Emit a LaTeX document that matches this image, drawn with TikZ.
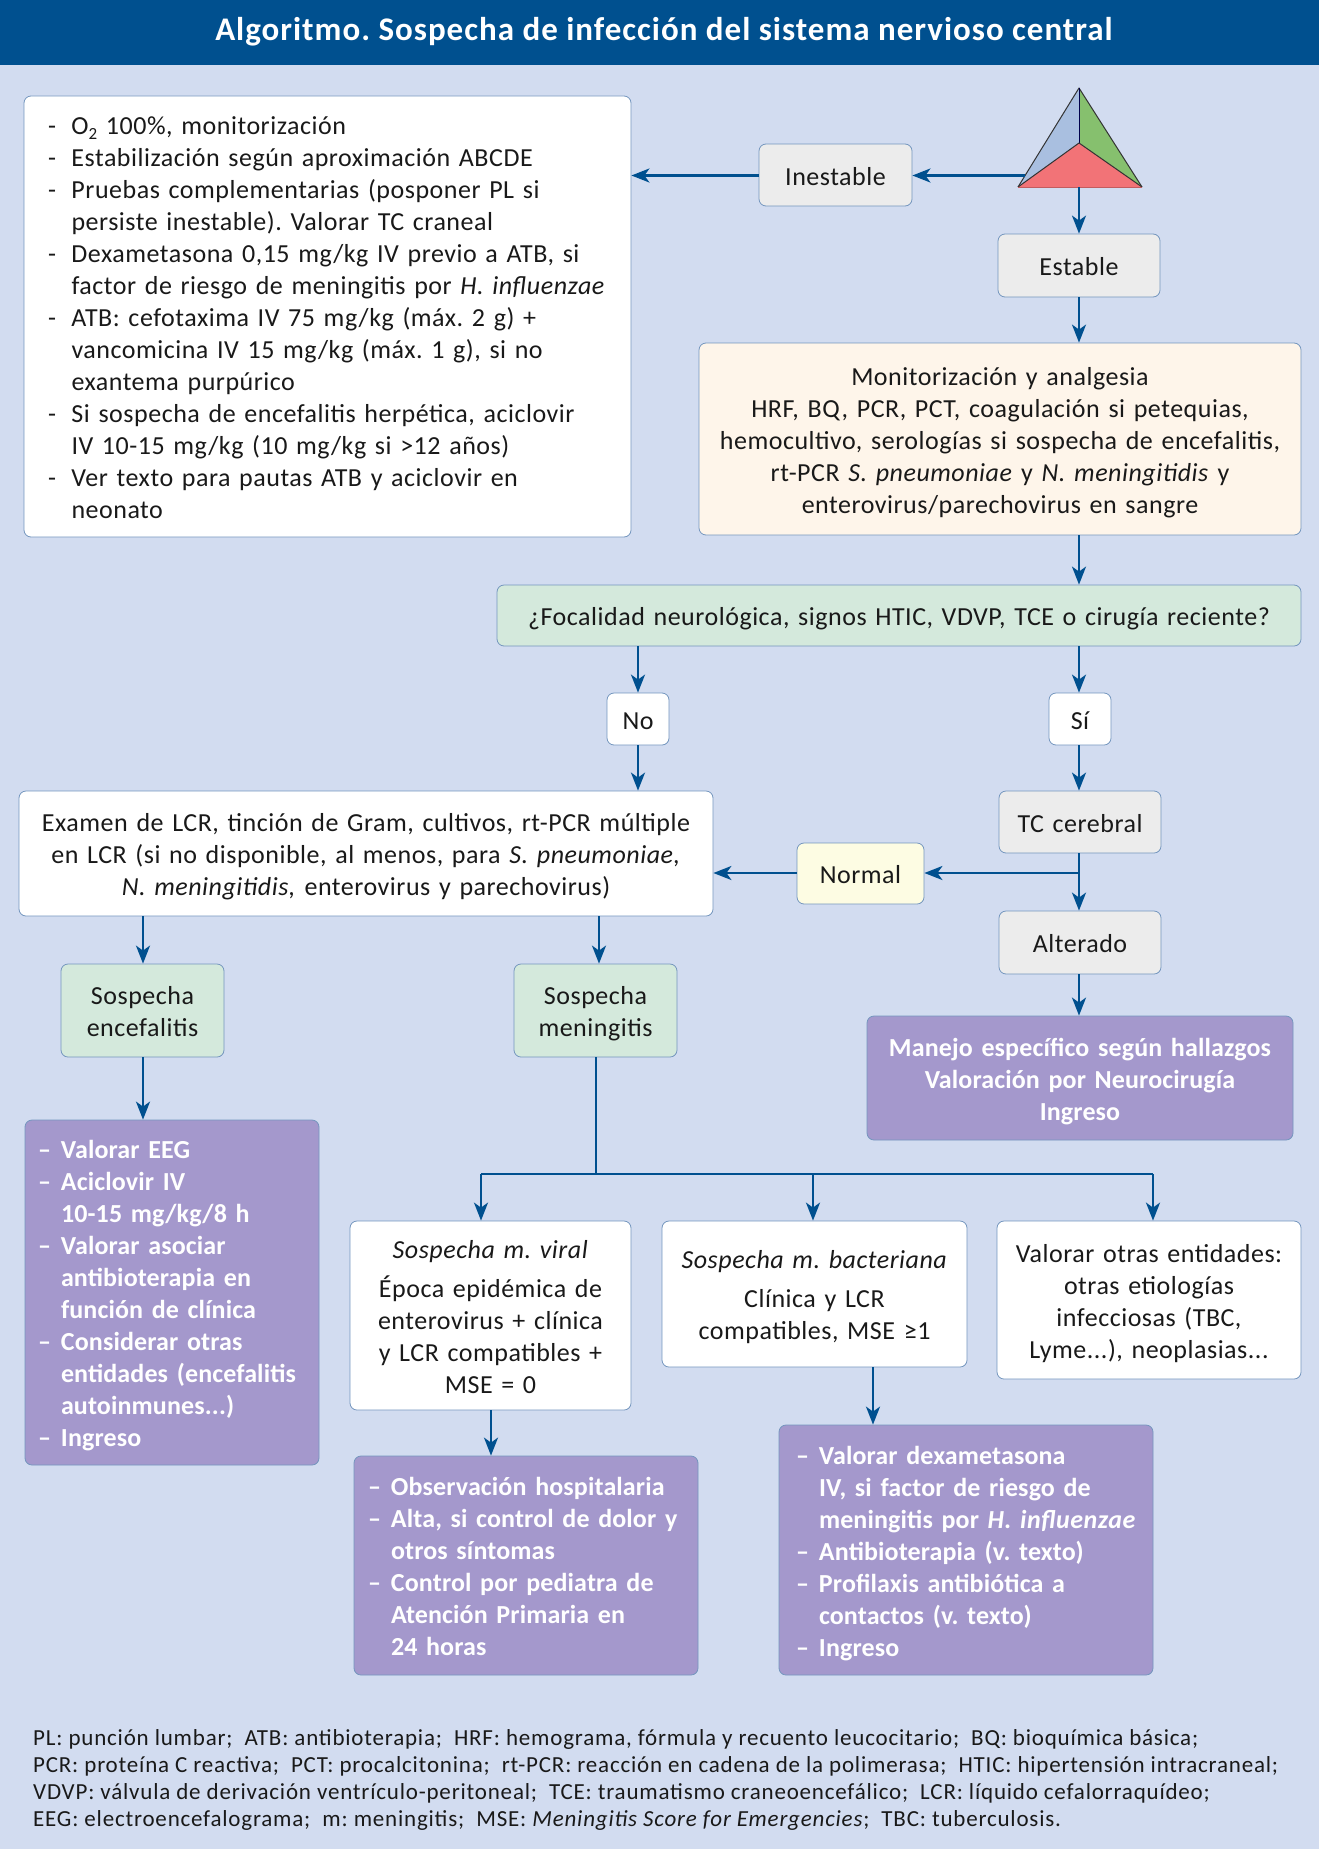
\documentclass[tikz,border=0pt]{standalone}
\usepackage{fontspec}
\setmainfont{Carlito}[LetterSpace=2,BoldFeatures={LetterSpace=0.5}]
\newfontfamily\footf{Carlito}[LetterSpace=3.5]
\newfontfamily\titlef{Carlito}[LetterSpace=3]
\usetikzlibrary{arrows.meta}
\definecolor{bgblue}{HTML}{D2DCF0}
\definecolor{navy}{HTML}{00508F}
\definecolor{edgeblue}{HTML}{7496BE}
\definecolor{greybox}{HTML}{ECECEC}
\definecolor{creambox}{HTML}{FEF5EA}
\definecolor{greenbox}{HTML}{D4E9DC}
\definecolor{yellowbox}{HTML}{FDFCE3}
\definecolor{purplebox}{HTML}{A498CC}
\definecolor{triblue}{HTML}{A9BFE0}
\definecolor{trigreen}{HTML}{86C06E}
\definecolor{trired}{HTML}{F27377}
\frenchspacing
\newcommand{\bxnode}[8]{%
 \pgfmathsetmacro\mycx{(#2+#4)/2}\pgfmathsetmacro\mycy{(#3+#5)/2}%
 \pgfmathsetmacro\myw{#4-#2}\pgfmathsetmacro\myh{#5-#3}\pgfmathsetmacro\mytw{#4-#2-2*#7}%
 \node[basebox,#6,minimum width=\myw pt,minimum height=\myh pt,inner xsep=#7 pt,text width=\mytw pt] (#1) at (\mycx,\mycy) {\rule{0pt}{25pt}#8\rule[-5pt]{0pt}{5pt}};}
\newcommand{\LI}[1]{\makebox[23.5pt][l]{-}#1}
\newcommand{\LC}[1]{\hspace*{23.5pt}#1}
\newcommand{\PI}[1]{\makebox[23pt][l]{–}#1}
\newcommand{\PC}[1]{\hspace*{23pt}#1}
\tikzset{
 basebox/.style={draw=edgeblue,line width=0.8pt,rounded corners=7pt,inner ysep=0pt,font=\fontsize{26}{32}\selectfont,text=black!90},
 greyb/.style={fill=greybox,align=center},
 creamb/.style={fill=creambox,align=center},
 greenb/.style={fill=greenbox,align=center},
 yellowb/.style={fill=yellowbox,align=center},
 whitec/.style={fill=white,align=center},
 whitel/.style={fill=white,align=left},
 purpc/.style={fill=purplebox,align=center,text=white,font=\fontsize{26}{32}\selectfont\bfseries},
 purpl/.style={fill=purplebox,align=left,text=white,font=\fontsize{26}{32}\selectfont\bfseries},
 arr/.style={draw=navy,line width=2.4pt,-{Stealth[length=18pt,width=14pt,inset=5pt]}},
 plainline/.style={draw=navy,line width=2.4pt},
 tripart/.style={draw=black!80,line width=1pt,line join=round},
}
\begin{document}
\begin{tikzpicture}[x=1pt,y=-1pt]
\useasboundingbox (0,0) rectangle (1319,1849);
\fill[bgblue] (0,0) rectangle (1319,1849);
\fill[navy] (0,0) rectangle (1319,65);
\node[font=\fontsize{33}{36}\selectfont\titlef\bfseries,text=white] (title) at (664,32) {Algoritmo. Sospecha de infección del sistema nervioso central};

% triangle
\coordinate (ta) at (1079,88);
\coordinate (tl) at (1018,187);
\coordinate (tr) at (1142,187);
\coordinate (tc) at (1079,143);
\coordinate (tleft) at (1025,175.5);
\coordinate (tbot) at (1079,187);
\fill[triblue] (ta) -- (tl) -- (tc) -- cycle;
\fill[trigreen] (ta) -- (tr) -- (tc) -- cycle;
\fill[trired] (tl) -- (tr) -- (tc) -- cycle;
\draw[tripart] (tl) -- (ta) -- (tr);
\draw[tripart,black!70!blue] (ta) -- (tc);
\draw[tripart,black!80] (tl) -- (tc) -- (tr);
\draw[trired!80!black,line width=1pt] (tl) -- (tr);

\bxnode{leftbox}{24}{96}{631}{537}{whitel}{24}{%
\LI{O\raisebox{-5pt}{\fontsize{17}{17}\selectfont 2} 100\%, monitorización}\\
\LI{Estabilización según aproximación ABCDE}\\
\LI{Pruebas complementarias (posponer PL si}\\
\LC{persiste inestable). Valorar TC craneal}\\
\LI{Dexametasona 0,15 mg/kg IV previo a ATB, si}\\
\LC{factor de riesgo de meningitis por \textit{H. influenzae}}\\
\LI{ATB: cefotaxima IV 75 mg/kg (máx. 2 g) +}\\
\LC{vancomicina IV 15 mg/kg (máx. 1 g), si no}\\
\LC{exantema purpúrico}\\
\LI{Si sospecha de encefalitis herpética, aciclovir}\\
\LC{IV 10-15 mg/kg (10 mg/kg si >12 años)}\\
\LI{Ver texto para pautas ATB y aciclovir en}\\
\LC{neonato}}

\bxnode{inest}{759}{144}{912}{206}{greyb}{4}{Inestable}
\bxnode{estable}{998}{234}{1160}{297}{greyb}{4}{Estable}
\bxnode{monit}{699}{343}{1301}{535}{creamb}{2}{Monitorización y analgesia\\
HRF, BQ, PCR, PCT, coagulación si petequias,\\
hemocultivo, serologías si sospecha de encefalitis,\\
rt-PCR \textit{S. pneumoniae} y \textit{N. meningitidis} y\\
enterovirus/parechovirus en sangre}
\bxnode{quest}{497}{585}{1301}{646}{greenb}{2}{¿Focalidad neurológica, signos HTIC, VDVP, TCE o cirugía reciente?}
\bxnode{nobox}{607}{693}{669}{745}{whitec}{2}{No}
\bxnode{sibox}{1049}{693}{1111}{745}{whitec}{2}{Sí}
\bxnode{examen}{19}{791}{713}{916}{whitec}{2}{Examen de LCR, tinción de Gram, cultivos, rt-PCR múltiple\\
en LCR (si no disponible, al menos, para \textit{S. pneumoniae,}\\
\textit{N. meningitidis,} enterovirus y parechovirus)}
\bxnode{tcbox}{999}{791}{1161}{853}{greyb}{2}{TC cerebral}
\bxnode{normal}{797}{843}{924}{904}{yellowb}{2}{Normal}
\bxnode{alter}{999}{911}{1161}{974}{greyb}{2}{Alterado}
\bxnode{manejo}{867}{1016}{1293}{1140}{purpc}{2}{Manejo específico según hallazgos\\
Valoración por Neurocirugía\\
Ingreso}
\bxnode{sencef}{61}{964}{224}{1057}{greenb}{2}{Sospecha\\encefalitis}
\bxnode{smening}{514}{964}{677}{1057}{greenb}{2}{Sospecha\\meningitis}
\bxnode{pencef}{25}{1120}{319}{1465}{purpl}{13}{%
\PI{Valorar EEG}\\
\PI{Aciclovir IV}\\
\PC{10-15 mg/kg/8 h}\\
\PI{Valorar asociar}\\
\PC{antibioterapia en}\\
\PC{función de clínica}\\
\PI{Considerar otras}\\
\PC{entidades (encefalitis}\\
\PC{autoinmunes...)}\\
\PI{Ingreso}}
\bxnode{viral}{350}{1221}{631}{1410}{whitec}{2}{\textit{Sospecha m. viral}\\[7pt]
Época epidémica de\\
enterovirus + clínica\\
y LCR compatibles +\\
MSE = 0}
\bxnode{bact}{662}{1221}{967}{1367}{whitec}{2}{\textit{Sospecha m. bacteriana}\\[7pt]
Clínica y LCR\\
compatibles, MSE ≥1}
\bxnode{otras}{997}{1221}{1301}{1379}{whitec}{2}{Valorar otras entidades:\\
otras etiologías\\
infecciosas (TBC,\\
Lyme...), neoplasias...}
\bxnode{pviral}{354}{1456}{698}{1675}{purpl}{14}{%
\PI{Observación hospitalaria}\\
\PI{Alta, si control de dolor y}\\
\PC{otros síntomas}\\
\PI{Control por pediatra de}\\
\PC{Atención Primaria en}\\
\PC{24 horas}}
\bxnode{pbact}{779}{1425}{1153}{1675}{purpl}{17}{%
\PI{Valorar dexametasona}\\
\PC{IV, si factor de riesgo de}\\
\PC{meningitis por \textit{H. influenzae}}\\
\PI{Antibioterapia (v. texto)}\\
\PI{Profilaxis antibiótica a}\\
\PC{contactos (v. texto)}\\
\PI{Ingreso}}

\node[anchor=north west,inner sep=0pt,align=left,font=\fontsize{23}{27}\selectfont\footf,text=black!90] (foot) at (33,1729) {%
PL: punción lumbar;\ \ ATB: antibioterapia;\ \ HRF: hemograma, fórmula y recuento leucocitario;\ \ BQ: bioquímica básica;\\
PCR: proteína C reactiva;\ \ PCT: procalcitonina;\ \ rt-PCR: reacción en cadena de la polimerasa;\ \ HTIC: hipertensión intracraneal;\\
VDVP: válvula de derivación ventrículo-peritoneal;\ \ TCE: traumatismo craneoencefálico;\ \ LCR: líquido cefalorraquídeo;\\
EEG: electroencefalograma;\ \ m: meningitis;\ \ MSE: \textit{Meningitis Score for Emergencies};\ \ TBC: tuberculosis.};

% guides
\coordinate (xmain) at (1079,0);
\coordinate (xno) at (638,0);
\coordinate (xenc) at (143,0);
\coordinate (xmen) at (599,0);
\coordinate (xmend) at (596,0);
\coordinate (xvir) at (481,0);
\coordinate (xbac) at (813,0);
\coordinate (xotr) at (1153,0);
\coordinate (xpv) at (491,0);
\coordinate (xpb) at (873,0);
\coordinate (ybus) at (0,1174);
\coordinate (ybr) at (0,873);
\coordinate (junc) at (xmain |- ybr);
\coordinate (bus) at (xmend |- ybus);

% connectors
\draw[arr] (tleft) -- (inest.east |- tleft);
\draw[arr] (inest.west |- tleft) -- (leftbox.east |- tleft);
\draw[arr] (tbot) -- (estable.north -| xmain);
\draw[arr] (estable.south -| xmain) -- (monit.north -| xmain);
\draw[arr] (monit.south -| xmain) -- (quest.north -| xmain);
\draw[arr] (quest.south -| xno) -- (nobox.north -| xno);
\draw[arr] (nobox.south -| xno) -- (examen.north -| xno);
\draw[arr] (quest.south -| xmain) -- (sibox.north -| xmain);
\draw[arr] (sibox.south -| xmain) -- (tcbox.north -| xmain);
\draw[arr] (tcbox.south -| xmain) -- (alter.north -| xmain);
\draw[arr] (junc) -- (normal.east |- junc);
\draw[arr] (normal.west |- junc) -- (examen.east |- junc);
\draw[arr] (alter.south -| xmain) -- (manejo.north -| xmain);
\draw[arr] (examen.south -| xenc) -- (sencef.north -| xenc);
\draw[arr] (examen.south -| xmen) -- (smening.north -| xmen);
\draw[arr] (sencef.south -| xenc) -- (pencef.north -| xenc);
\draw[plainline] (smening.south -| xmend) -- (bus);
\draw[arr] (xvir |- ybus) -- (viral.north -| xvir);
\draw[plainline] (xvir |- ybus) -- (xotr |- ybus);
\draw[arr] (xbac |- ybus) -- (bact.north -| xbac);
\draw[arr] (xotr |- ybus) -- (otras.north -| xotr);
\draw[arr] (viral.south -| xpv) -- (pviral.north -| xpv);
\draw[arr] (bact.south -| xpb) -- (pbact.north -| xpb);
\end{tikzpicture}
\end{document}
